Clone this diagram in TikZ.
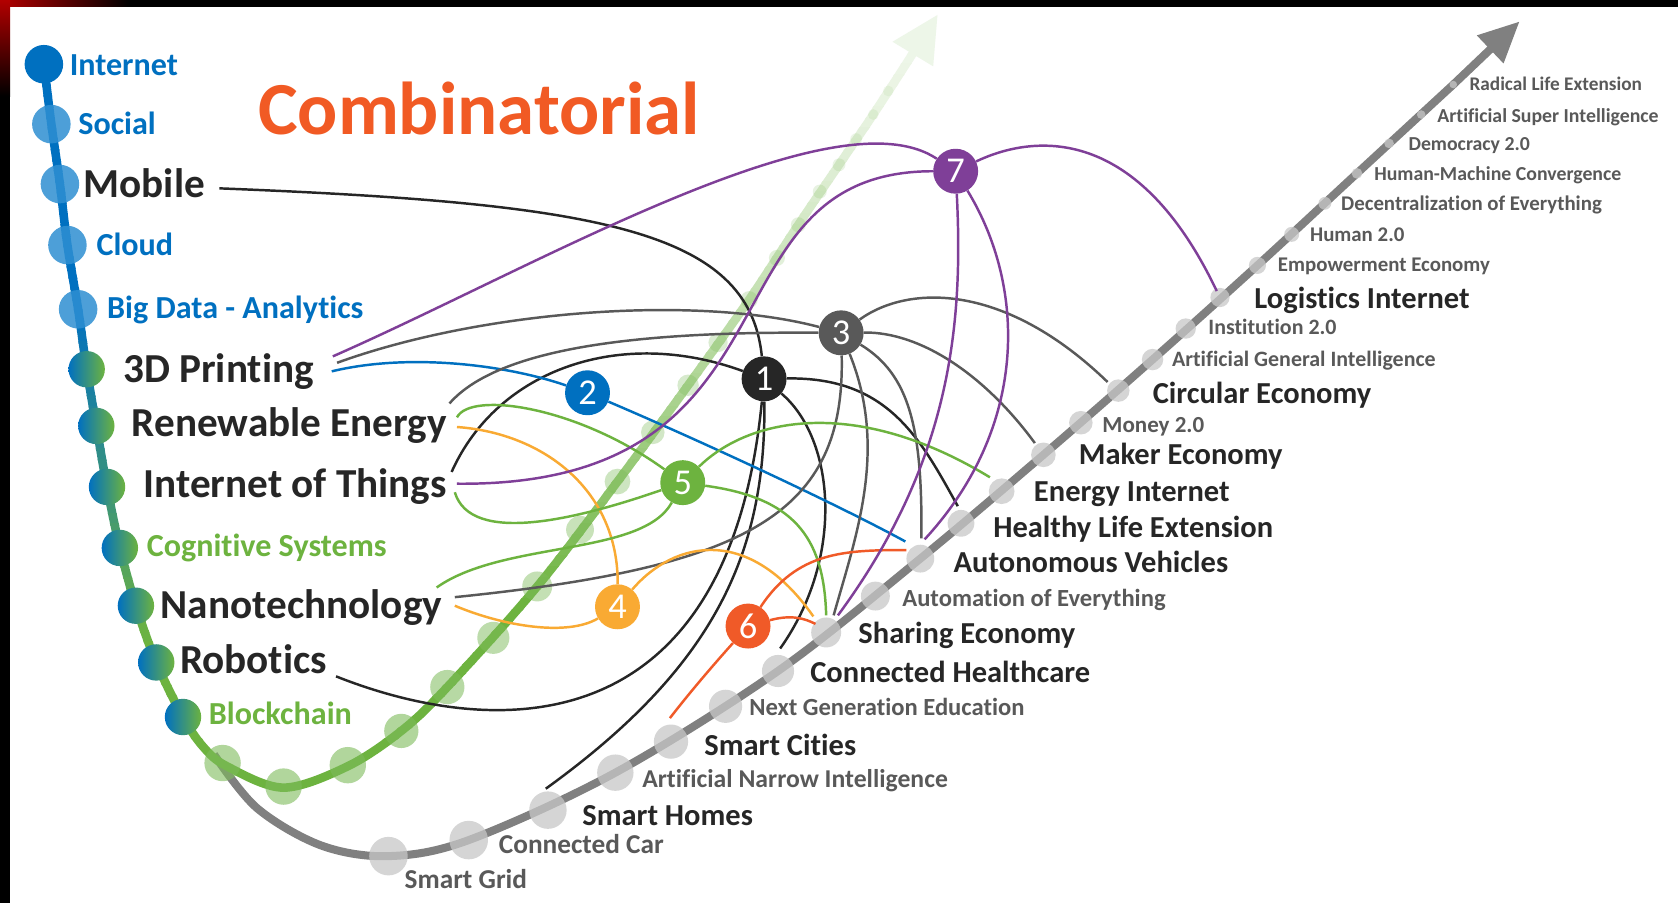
\documentclass[tikz,border=0pt]{standalone}
\usepackage{fontspec}
\setmainfont[Ligatures={NoCommon,NoRare}]{Carlito}
\usetikzlibrary{arrows.meta}

\definecolor{kblue}{HTML}{0070C0}
\definecolor{kgreen}{HTML}{6DB33F}
\definecolor{kdark}{HTML}{262626}
\definecolor{kgray}{HTML}{595959}
\definecolor{korange}{HTML}{F9AA33}
\definecolor{kred}{HTML}{F05A28}
\definecolor{kpurple}{HTML}{7F3F98}
\definecolor{ktitle}{HTML}{F15A24}
\definecolor{trackgray}{HTML}{808080}
\definecolor{stopgray}{HTML}{C8C8C8}
\definecolor{dotgreen}{HTML}{7DBB5A}
\definecolor{dotblue}{HTML}{2E8FD2}

\pgfdeclarelayer{back}
\pgfdeclarelayer{wires}
\pgfsetlayers{back,wires,main}

% the blue/green trunk line, drawn several times under clips
\newcommand{\trunk}[1]{%
  \draw[#1,line width=8pt] plot[smooth,tension=0.55] coordinates {(41,-60) (48,-116) (56,-172) (63,-229) (73,-289) (81,-345) (90,-398) (100,-455) (112,-512) (127,-566) (146,-619) (171,-670) (190,-698) (212,-716) (265,-736) (325,-716) (375,-683) (418,-642) (502,-548) (577,-450) (643,-360) (700,-280) (746,-210) (784,-154) (816,-107) (853,-50)};}

\begin{document}
\begin{tikzpicture}[x=1pt,y=1pt,
    hub/.style={circle,fill=#1,text=white,minimum size=42pt,inner sep=0pt,font=\fontsize{34}{34}\selectfont},
    wire/.style={draw=#1,line width=2.3pt},
    lab/.style={anchor=base west,inner sep=0pt},
    spinebig/.style={lab,text=kdark,font=\fontsize{38.5}{40}\selectfont\bfseries},
    spinesmall/.style={lab,font=\fontsize{30}{32}\selectfont\bfseries},
    stopbig/.style={lab,text=kdark,font=\fontsize{28.5}{30}\selectfont\bfseries},
    stopsmall/.style={lab,text=kgray,font=\fontsize{#1}{#1}\selectfont\bfseries}]
    \useasboundingbox (0,0) rectangle (1568,-844);

    \begin{pgfonlayer}{back}
    \fill[white] (0,0) rectangle (1568,-844);

    % grey track with its stops
    \draw[trackgray,line width=7.5pt,-{Triangle[length=38pt,width=34pt]}] plot[smooth,tension=0.55] coordinates {(200,-705) (240,-755) (300,-790) (363,-800) (438,-785) (575,-722) (727,-627) (860,-522) (975,-425) (1077,-336) (1175,-248) (1268,-162) (1358,-79)} -- (1420,-20);
    \foreach \x/\y/\r in {363/800/18, 438/785/18, 512/757/17.5, 575/722/17, 627/693/16, 678/660/15.5, 727/627/15, 772/591/14, 818/557/13.5, 860/522/13, 898/489/12.5, 936/459/12, 975/425/11.5, 1010/395/11, 1045/365/10.5, 1077/336/10, 1108/307/9.5, 1140/278/9, 1175/248/8, 1207/219/7, 1238/190/6, 1268/162/5, 1298/134/4.5, 1328/107/4, 1358/79/3.5}
        \fill[stopgray,opacity=.75] (\x,-\y) circle (\r);

    % spine: blue into green
    \foreach \k in {0,...,68}{
        \pgfmathsetmacro\ya{10*\k}
        \pgfmathsetmacro\mix{int(max(0,min(100,(\ya+5-290)/3.1)))}
        \begin{scope}
            \clip (0,-\ya+0.6) rectangle (240,-\ya-10.6);
            \trunk{kgreen!\mix!kblue}
        \end{scope}
    }
    % rising branch fades out
    \foreach \k in {0,...,68}{
        \pgfmathsetmacro\ya{10*\k}
        \pgfmathsetmacro\lev{max(0.01,min(1,(\ya+5-40)/520))}
        \pgfmathsetmacro\fd{int(12+88*pow(\lev,1.4))}
        \begin{scope}
            \clip (240,-\ya+0.6) rectangle (1568,-\ya-10.6);
            \trunk{kgreen!\fd!white}
        \end{scope}
    }
    \begin{scope}
        \clip (0,-690) rectangle (1568,-844);
        \trunk{kgreen}
    \end{scope}
    \fill[kgreen!12!white] (876,-14) -- (834,-39) -- (872,-62) -- cycle;
    \foreach \x/\y/\r/\o in {208/713/17/.6, 265/735/17/.6, 325/715/17/.6, 375/683/16/.6, 418/642/16/.55, 461/596/15/.5, 502/548/14/.45, 542/495/13/.42, 577/450/12/.38, 610/404/11/.34, 643/360/10/.3, 671/320/9/.27, 700/280/8/.24, 726/241/7.5/.22, 746/210/7/.2, 766/179/6.5/.18, 784/154/6/.16, 800/130/5.5/.14, 816/107/5/.12, 830/85/5/.1}
        \fill[dotgreen,opacity=\o] (\x,-\y) circle (\r);

    % spine stops
    \fill[kblue] (41,-60) circle (18);
    \foreach \x/\y in {48/116, 56/172, 63/229, 73/289}
        \fill[dotblue,opacity=.85] (\x,-\y) circle (18);
    \foreach \x/\y in {81/345, 90/398, 100/455, 112/512, 127/566, 146/619, 171/670}
        \shade[left color=kblue,right color=kgreen] (\x,-\y) circle (17);

    % frame
    \fill[black] (0,0) rectangle (1568,-6.5);
    \fill[black] (0,0) rectangle (9.5,-844);
    \shade[left color=red!70!black,right color=black] (0,0) rectangle (120,-6.5);
    \shade[top color=red!70!black,bottom color=black] (0,0) rectangle (9.5,-90);
    \end{pgfonlayer}

    \node[lab,text=ktitle,font=\fontsize{70}{70}\selectfont\bfseries] (title) at (241,-126) {Combinatorial};

    % left labels
    \node[spinesmall,text=kblue] (lInternet) at (65,-71) {Internet};
    \node[spinesmall,text=kblue] (lSocial) at (73,-126) {Social};
    \node[spinebig] (lMobile) at (78,-185) {Mobile};
    \node[spinesmall,text=kblue] (lCloud) at (90,-239) {Cloud};
    \node[spinesmall,text=kblue] (lBigData) at (100,-298) {Big Data - Analytics};
    \node[spinebig] (lPrinting) at (115,-357) {3D Printing};
    \node[spinebig] (lRenewable) at (123,-408) {Renewable Energy};
    \node[spinebig] (lIoT) at (134,-465) {Internet of Things};
    \node[spinesmall,text=kgreen] (lCognitive) at (137,-520) {Cognitive Systems};
    \node[spinebig] (lNano) at (150,-578) {Nanotechnology};
    \node[spinebig] (lRobotics) at (168,-629) {Robotics};
    \node[spinesmall,text=kgreen] (lBlockchain) at (195,-677) {Blockchain};

    % right labels
    \node[stopsmall=25.5] (lGrid) at (378,-830) {Smart Grid};
    \node[stopsmall=25.5] (lCar) at (466,-798) {Connected Car};
    \node[stopbig] (lHomes) at (544,-771) {Smart Homes};
    \node[stopsmall=24] (lANI) at (600,-736) {Artificial Narrow Intelligence};
    \node[stopbig] (lCities) at (658,-706) {Smart Cities};
    \node[stopsmall=23] (lEducation) at (700,-669) {Next Generation Education};
    \node[stopbig] (lHealthcare) at (757,-638) {Connected Healthcare};
    \node[stopbig] (lSharing) at (802,-601) {Sharing Economy};
    \node[stopsmall=23] (lAutomation) at (843,-567) {Automation of Everything};
    \node[stopbig] (lVehicles) at (891,-535) {Autonomous Vehicles};
    \node[stopbig] (lLife) at (928,-502) {Healthy Life Extension};
    \node[stopbig] (lEnergy) at (966,-469) {Energy Internet};
    \node[stopbig] (lMaker) at (1008,-434) {Maker Economy};
    \node[stopsmall=21.5] (lMoney) at (1030,-404) {Money 2.0};
    \node[stopbig] (lCircular) at (1077,-377) {Circular Economy};
    \node[stopsmall=20.5] (lAGI) at (1095,-342) {Artificial General Intelligence};
    \node[stopsmall=20.5] (lInstitution) at (1129,-313) {Institution 2.0};
    \node[stopbig] (lLogistics) at (1172,-288) {Logistics Internet};
    \node[stopsmall=19.5] (lEmpower) at (1194,-254) {Empowerment Economy};
    \node[stopsmall=19.5] (lHuman) at (1224,-226) {Human 2.0};
    \node[stopsmall=19.5] (lDecentral) at (1253,-197) {Decentralization of Everything};
    \node[stopsmall=18.5] (lConvergence) at (1284,-169) {Human-Machine Convergence};
    \node[stopsmall=18.5] (lDemocracy) at (1316,-141) {Democracy 2.0};
    \node[stopsmall=18.5] (lASI) at (1343,-114) {Artificial Super Intelligence};
    \node[stopsmall=18] (lRadical) at (1373,-85) {Radical Life Extension};

    % hubs
    \node[hub=kdark] (h1) at (714,-354) {1};
    \node[hub=kblue] (h2) at (549,-367) {2};
    \node[hub=kgray] (h3) at (786,-311) {3};
    \node[hub=korange] (h4) at (577,-567) {4};
    \node[hub=kgreen] (h5) at (638,-451) {5};
    \node[hub=kred] (h6) at (699,-585) {6};
    \node[hub=kpurple] (h7) at (893,-160) {7};

    % connector ends
    \coordinate (mobK) at (205,-176);
    \coordinate (prnV) at (311,-333);
    \coordinate (prnG) at (315,-339);
    \coordinate (prnB) at (310,-347);
    \coordinate (renG) at (420,-377);
    \coordinate (renE) at (427,-390);
    \coordinate (renO) at (427,-399);
    \coordinate (iotK) at (422,-441);
    \coordinate (iotV) at (427,-452);
    \coordinate (iotE) at (425,-460);
    \coordinate (nanE) at (408,-549);
    \coordinate (nanG) at (425,-558);
    \coordinate (nanO) at (425,-566);
    \coordinate (robK) at (314,-632);
    \coordinate (homK) at (510,-737);
    \coordinate (citR) at (626,-671);
    \coordinate (heaK) at (729,-606);
    \coordinate (shaO) at (760,-576);
    \coordinate (shaR) at (762,-583);
    \coordinate (shaE) at (772,-575);
    \coordinate (shaG) at (779,-575);
    \coordinate (shaV) at (783,-575);
    \coordinate (vehB) at (846,-506);
    \coordinate (vehG) at (861,-503);
    \coordinate (vehV) at (864,-504);
    \coordinate (vehR) at (847,-514);
    \coordinate (lifK) at (895,-473);
    \coordinate (eneE) at (925,-446);
    \coordinate (makG) at (967,-414);
    \coordinate (cirG) at (1035,-357);
    \coordinate (logV) at (1137,-272);

    \begin{pgfonlayer}{wires}
    % hub 1
    \draw[wire=kdark] (mobK) .. controls (560,-190) and (700,-215) .. (h1);
    \draw[wire=kdark] (iotK) .. controls (465,-345) and (580,-305) .. (h1);
    \draw[wire=kdark] (robK) .. controls (460,-690) and (680,-700) .. (h1);
    \draw[wire=kdark] (h1) .. controls (716,-520) and (665,-625) .. (homK);
    \draw[wire=kdark] (h1) .. controls (780,-410) and (790,-520) .. (heaK);
    \draw[wire=kdark] (h1) .. controls (830,-352) and (860,-410) .. (lifK);
    % hub 2
    \draw[wire=kblue] (prnB) .. controls (380,-330) and (470,-340) .. (h2);
    \draw[wire=kblue] (h2) .. controls (650,-410) and (780,-470) .. (vehB);
    % hub 3
    \draw[wire=kgray] (prnG) .. controls (450,-290) and (650,-275) .. (h3);
    \draw[wire=kgray] (renG) .. controls (470,-320) and (620,-310) .. (h3);
    \draw[wire=kgray] (nanG) .. controls (700,-530) and (790,-480) .. (h3);
    \draw[wire=kgray] (h3) .. controls (850,-265) and (940,-265) .. (cirG);
    \draw[wire=kgray] (h3) .. controls (860,-310) and (920,-350) .. (makG);
    \draw[wire=kgray] (h3) .. controls (850,-350) and (862,-400) .. (vehG);
    \draw[wire=kgray] (h3) .. controls (830,-420) and (800,-500) .. (shaG);
    % hub 4
    \draw[wire=korange] (renO) .. controls (510,-405) and (578,-460) .. (h4);
    \draw[wire=korange] (nanO) .. controls (470,-585) and (530,-595) .. (h4);
    \draw[wire=korange] (h4) .. controls (630,-505) and (700,-490) .. (shaO);
    % hub 5
    \draw[wire=kgreen] (renE) .. controls (440,-365) and (540,-380) .. (h5);
    \draw[wire=kgreen] (iotE) .. controls (440,-510) and (540,-485) .. (h5);
    \draw[wire=kgreen] (nanE) .. controls (470,-505) and (600,-520) .. (h5);
    \draw[wire=kgreen] (h5) .. controls (700,-390) and (800,-370) .. (eneE);
    \draw[wire=kgreen] (h5) .. controls (740,-465) and (770,-500) .. (shaE);
    % hub 6
    \draw[wire=kred] (citR) .. controls (650,-640) and (675,-612) .. (h6);
    \draw[wire=kred] (h6) .. controls (745,-515) and (790,-514) .. (vehR);
    \draw[wire=kred] (h6) .. controls (740,-574) and (752,-578) .. (shaR);
    % hub 7
    \draw[wire=kpurple] (prnV) .. controls (500,-250) and (780,-85) .. (h7);
    \draw[wire=kpurple] (iotV) .. controls (760,-455) and (650,-160) .. (h7);
    \draw[wire=kpurple] (h7) .. controls (960,-128) and (1060,-110) .. (logV);
    \draw[wire=kpurple] (h7) .. controls (900,-300) and (890,-430) .. (shaV);
    \draw[wire=kpurple] (h7) .. controls (960,-270) and (960,-400) .. (vehV);
    \end{pgfonlayer}
\end{tikzpicture}
\end{document}
